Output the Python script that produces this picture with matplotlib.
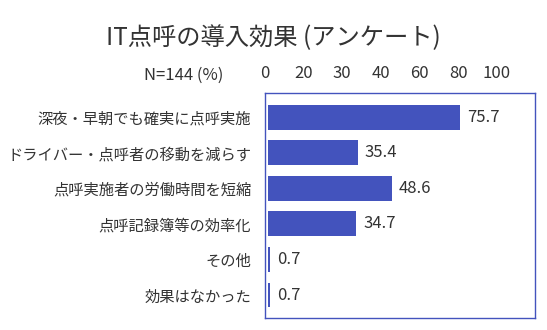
import numpy as np
import matplotlib
matplotlib.use("Agg")
import matplotlib.pyplot as plt

plt.rcParams['font.family'] = ['Noto Sans CJK JP', 'DejaVu Sans']

# survey data
categories = ["深夜・早朝でも確実に点呼実施",
              "ドライバー・点呼者の移動を減らす",
              "点呼実施者の労働時間を短縮",
              "点呼記録簿等の効率化",
              "その他",
              "効果はなかった"]
values = [75.7, 35.4, 48.6, 34.7, 0.7, 0.7]
scale_labels = ["0", "20", "30", "40", "60", "80", "100"]

title = "IT点呼の導入効果 (アンケート)"
sample_note = "N=144 (%)"

bar_color = "#4353bd"
text_color = "#333333"

fig = plt.figure(figsize=(5.47, 3.30), dpi=100)
ax = fig.add_axes([0.4845, 0.036, 0.4935, 0.682])

y = np.arange(len(categories))
ax.barh(y, values, height=0.7, color=bar_color)
for yi, v in zip(y, values):
    ax.text(v + 2.7, yi, f"{v:.1f}", va="center", ha="left",
            fontsize=12, color=text_color)

ax.set_xlim(0, 105)
ax.set_ylim(5.65, -0.68)

ax.set_yticks(y)
ax.set_yticklabels(categories, fontsize=11, color=text_color)
ax.tick_params(axis="y", length=0, pad=10)

# scale labels shown along the top
ax.xaxis.tick_top()
tick_pos = -1.2 + 15.2 * np.arange(len(scale_labels))
ax.set_xticks(tick_pos)
ax.set_xticklabels(scale_labels, fontsize=12, color=text_color)
ax.tick_params(axis="x", length=0, pad=8)

for s in ax.spines.values():
    s.set_color(bar_color)
    s.set_linewidth(1.0)

fig.text(184 / 547, 1 - 75 / 330, sample_note, ha="center", va="center",
         fontsize=12, color=text_color)
fig.text(273 / 547, 1 - 38 / 330, title, ha="center", va="center",
         fontsize=17.5, color=text_color)

fig.savefig("out.png", dpi=100, facecolor="white")
